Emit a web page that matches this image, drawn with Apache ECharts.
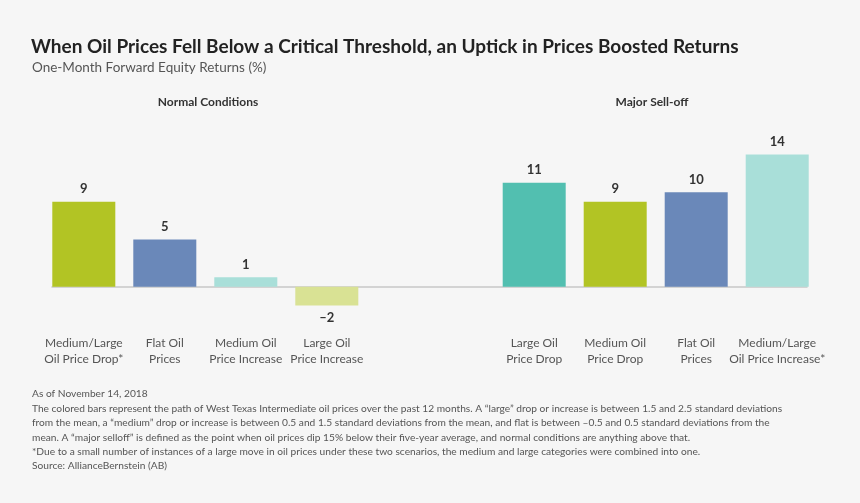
<!DOCTYPE html>
<html>
<head>
<meta charset="utf-8">
<script src="https://cdn.jsdelivr.net/npm/echarts@6/dist/echarts.min.js"></script>
<style>
html,body{margin:0;padding:0;background:#f6f6f6;}
#chart{width:860px;height:503px;}
</style>
</head>
<body>
<div id="chart"></div>
<script>
// ---- data ----
const normalCategories = ['Medium/Large\nOil Price Drop*', 'Flat Oil\nPrices', 'Medium Oil\nPrice Increase', 'Large Oil\nPrice Increase'];
const normalValues = [9, 5, 1, -2];
const selloffCategories = ['Large Oil\nPrice Drop', 'Medium Oil\nPrice Drop', 'Flat Oil\nPrices', 'Medium/Large\nOil Price Increase*'];
const selloffValues = [11, 9, 10, 14];
const groupNames = ['Normal Conditions', 'Major Sell-off'];
const titleText = 'When Oil Prices Fell Below a Critical Threshold, an Uptick in Prices Boosted Returns';
const subtitleText = 'One-Month Forward Equity Returns (%)';
const footnoteLines = [
  'As of November 14, 2018',
  'The colored bars represent the path of West Texas Intermediate oil prices over the past 12 months. A \u201clarge\u201d drop or increase is between 1.5 and 2.5 standard deviations',
  'from the mean, a \u201cmedium\u201d drop or increase is between 0.5 and 1.5 standard deviations from the mean, and flat is between \u20130.5 and 0.5 standard deviations from the',
  'mean. A \u201cmajor selloff\u201d is defined as the point when oil prices dip 15% below their five-year average, and normal conditions are anything above that.',
  '*Due to a small number of instances of a large move in oil prices under these two scenarios, the medium and large categories were combined into one.',
  'Source: AllianceBernstein (AB)'
];

// ---- styles ----
const normalColors = ['#b2c424', '#6a88b9', '#a9dfd9', '#d9e294'];
const selloffColors = ['#52bfb0', '#b2c424', '#6a88b9', '#a9dfd9'];
const FONT = 'Lato, "Noto Sans", sans-serif';

function barData(values, colors) {
  return values.map((v, i) => ({
    value: v,
    itemStyle: { color: colors[i] },
    label: { position: v < 0 ? 'bottom' : 'top' }
  }));
}

const gridTop = 145, gridHeight = 170;
const yMin = -3, yMax = 15;

const chart = echarts.init(document.getElementById('chart'), null, { renderer: 'canvas' });

const yAxisBase = (gi) => ({
  type: 'value', gridIndex: gi, min: yMin, max: yMax,
  show: false, splitLine: { show: false }
});
const xAxisCat = (gi, cats) => ({
  type: 'category', gridIndex: gi, data: cats,
  axisLine: { show: false, onZero: false }, axisTick: { show: false },
  axisLabel: { color: '#555', fontFamily: FONT, fontSize: 12, lineHeight: 16, margin: 20, interval: 0 }
});
const seriesBase = (gi, values, colors) => ({
  type: 'bar', xAxisIndex: gi, yAxisIndex: gi,
  barWidth: 63,
  data: barData(values, colors),
  label: {
    show: true, distance: 6, color: '#333', fontFamily: FONT, fontWeight: 'bold', fontSize: 13,
    formatter: (p) => String(p.value).replace('-', '\u2013')
  },
  silent: true, animation: false
});

chart.setOption({
  backgroundColor: '#f6f6f6',
  animation: false,
  title: [
    { text: titleText, left: 31, top: 37, padding: 0,
      textStyle: { fontFamily: FONT, fontWeight: 'bold', fontSize: 19, color: '#222' } },
    { text: subtitleText, left: 32, top: 61, padding: 0,
      textStyle: { fontFamily: FONT, fontWeight: 'normal', fontSize: 13.5, color: '#555' } },
    { text: groupNames[0], left: 208, top: 96, padding: 0, textAlign: 'center',
      textStyle: { fontFamily: FONT, fontWeight: 'bold', fontSize: 12, color: '#333' } },
    { text: groupNames[1], left: 652, top: 96, padding: 0, textAlign: 'center',
      textStyle: { fontFamily: FONT, fontWeight: 'bold', fontSize: 12, color: '#333' } },
    { text: footnoteLines.join('\n'), left: 32, top: 387, padding: 0,
      textStyle: { fontFamily: FONT, fontWeight: 'normal', fontSize: 10.2, lineHeight: 14.4, color: '#555' } }
  ],
  grid: [
    { left: 43.3, width: 324, top: gridTop, height: gridHeight },
    { left: 493.7, width: 324, top: gridTop, height: gridHeight },
    { left: 52, right: 53, top: gridTop, height: gridHeight }
  ],
  xAxis: [
    xAxisCat(0, normalCategories),
    xAxisCat(1, selloffCategories),
    { type: 'value', gridIndex: 2, min: 0, max: 1,
      axisLine: { show: true, onZero: true, lineStyle: { color: '#c8c8c8', width: 1.5 } },
      axisTick: { show: false }, axisLabel: { show: false }, splitLine: { show: false } }
  ],
  yAxis: [yAxisBase(0), yAxisBase(1), yAxisBase(2)],
  series: [
    seriesBase(0, normalValues, normalColors),
    seriesBase(1, selloffValues, selloffColors)
  ]
});
</script>
</body>
</html>
